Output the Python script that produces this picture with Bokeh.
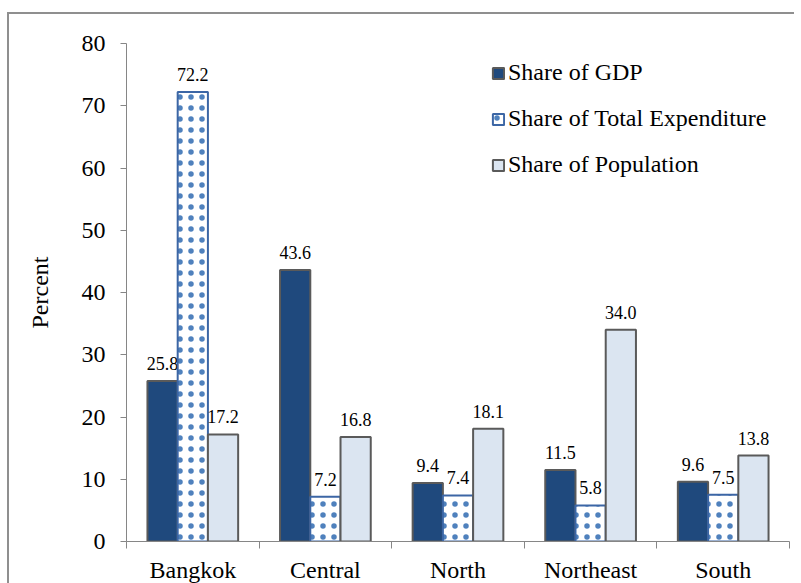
from bokeh.plotting import figure
from bokeh.models import Range1d, FixedTicker, LinearAxis, ColumnDataSource, Legend
from bokeh.core.properties import value
from bokeh.embed import file_html
from bokeh.resources import INLINE

categories = ["Bangkok", "Central", "North", "Northeast", "South"]
share_gdp = [25.8, 43.6, 9.4, 11.5, 9.6]
share_expenditure = [72.2, 7.2, 7.4, 5.8, 7.5]
share_population = [17.2, 16.8, 18.1, 34.0, 13.8]
series_names = ["Share of GDP", "Share of Total Expenditure", "Share of Population"]
y_ticks = [0, 10, 20, 30, 40, 50, 60, 70, 80]

FONT = "Liberation Serif"
AXIS_COLOR = "#868686"

p = figure(frame_width=663, frame_height=498, output_backend="svg", toolbar_location=None,
           x_range=Range1d(0, 5), y_range=Range1d(0, 80),
           x_axis_location=None, min_border_left=117, min_border_right=5,
           min_border_top=29, min_border_bottom=40)
p.margin = (12, 0, 0, 7)
p.styles = {"border-top": "2px solid #8f8f8f", "border-left": "2px solid #8f8f8f"}
p.outline_line_color = None
p.xgrid.visible = False
p.ygrid.visible = False

n = len(categories)
w = 0.228
centers = [i + 0.5 for i in range(n)]
series = [share_gdp, share_expenditure, share_population]
offsets = [-w, 0.0, w]
styles = [
    dict(fill_color="#1F497D", line_color="#5A5A5A"),
    dict(fill_color="white", line_color="#3C66A5", hatch_pattern="dot",
         hatch_color="#4F81BD", hatch_scale=11, hatch_weight=1.1),
    dict(fill_color="#DBE5F1", line_color="#5A5A5A"),
]

legend_items = []
for vals, off, st, name in zip(series, offsets, styles, series_names):
    src = ColumnDataSource(dict(x=[c + off for c in centers], top=vals,
                                lab=["%.1f" % v for v in vals]))
    r = p.vbar(x="x", top="top", bottom=0, width=w, source=src, line_width=2, **st)
    legend_items.append((name, [r]))
    p.text(x="x", y="top", text="lab", source=src, text_align="center",
           text_baseline="bottom", y_offset=-11, text_font=value(FONT),
           text_font_size="18px", text_color="black")

legend = Legend(items=legend_items, location=(365, 363), orientation="vertical",
                glyph_width=14, glyph_height=14, label_height=20, spacing=19,
                label_standoff=3, padding=0, margin=0,
                label_text_font=FONT, label_text_font_size="24px",
                label_text_color="black", border_line_alpha=0,
                background_fill_alpha=0)
p.add_layout(legend)

# y axis
ya = p.yaxis[0]
ya.ticker = FixedTicker(ticks=y_ticks)
ya.axis_line_color = AXIS_COLOR
ya.major_tick_line_color = AXIS_COLOR
ya.minor_tick_line_color = None
ya.major_tick_out = 6
ya.major_tick_in = 0
ya.major_label_standoff = 15
ya.major_label_text_font = FONT
ya.major_label_text_font_size = "24px"
ya.major_label_text_color = "black"
ya.axis_label = "Percent"
ya.axis_label_text_font = FONT
ya.axis_label_text_font_size = "24px"
ya.axis_label_text_font_style = "normal"
ya.axis_label_text_color = "black"
ya.axis_label_standoff = 26

# x axis: boundary ticks (no labels)
xa = LinearAxis(ticker=FixedTicker(ticks=list(range(n + 1))))
xa.axis_line_color = AXIS_COLOR
xa.major_tick_line_color = AXIS_COLOR
xa.minor_tick_line_color = None
xa.major_tick_out = 7
xa.major_tick_in = 0
xa.major_label_text_color = None
xa.major_label_text_font_size = "1px"
xa.major_label_standoff = 0
p.add_layout(xa, "below")

# x axis: category labels
xl = LinearAxis(ticker=FixedTicker(ticks=centers),
                major_label_overrides={c: name for c, name in zip(centers, categories)})
xl.axis_line_color = None
xl.major_tick_line_color = None
xl.minor_tick_line_color = None
xl.major_tick_out = 0
xl.major_tick_in = 0
xl.major_label_standoff = 8
xl.major_label_text_font = FONT
xl.major_label_text_font_size = "24px"
xl.major_label_text_color = "black"
p.add_layout(xl, "below")

open("out.html", "w").write(file_html(p, INLINE))
